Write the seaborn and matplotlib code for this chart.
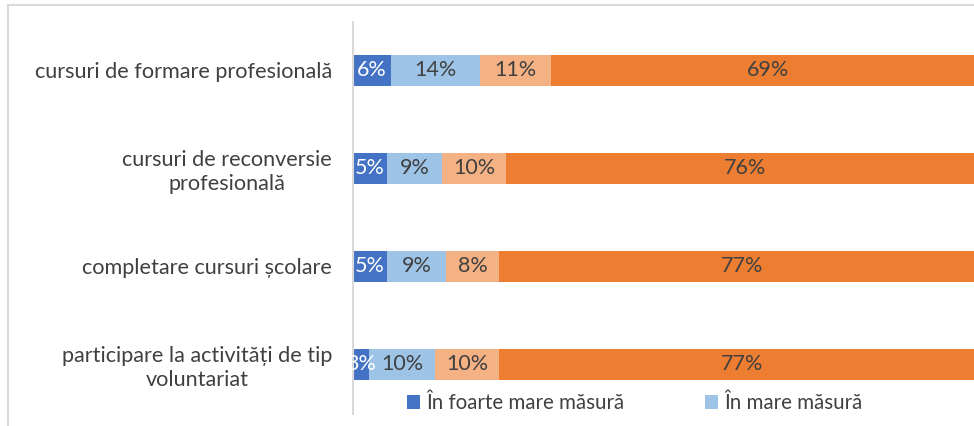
import matplotlib
matplotlib.use("Agg")
import matplotlib.pyplot as plt
from matplotlib.patches import Patch, Rectangle
import seaborn as sns
import numpy as np
import pandas as pd

categories = [
    "cursuri de formare profesională",
    "cursuri de reconversie\nprofesională",
    "completare cursuri școlare",
    "participare la activități de tip\nvoluntariat",
]
series_names = ["În foarte mare măsură", "În mare măsură", "În mică măsură", "Deloc"]
# values (labels show rounded percentages)
s1 = [6.0, 5.4, 5.4, 2.6]
s2 = [14.1, 8.7, 9.3, 10.4]
s3 = [11.2, 10.1, 8.4, 10.1]
s4 = [68.7, 75.8, 76.9, 76.9]
colors = ["#4472C4", "#9DC3E6", "#F4B183", "#ED7D31"]
label_colors = ["white", "#404040", "#404040", "#404040"]

sns.set_theme(style="white")
plt.rcParams["font.family"] = ["Lato", "DejaVu Sans"]

W, H = 974, 426
fig = plt.figure(figsize=(W / 100, H / 100), dpi=100)
fig.patch.set_facecolor("white")

# outer chart border (cropped on right/bottom)
fig.patches.append(Rectangle((8 / W, -0.1), 1.2, 1 - 5 / H + 0.1, transform=fig.transFigure,
                             fill=False, edgecolor="#D9D9D9", linewidth=1.5))

ax = fig.add_axes([353 / W, 1 - 413.5 / H, 632 / W, 392 / H])

data = pd.DataFrame({"cat": categories, "s1": s1, "s2": s2, "s3": s3, "s4": s4})
series = [data["s1"], data["s2"], data["s3"], data["s4"]]
cum = np.cumsum(np.array(series, dtype=float), axis=0)

for i in range(3, -1, -1):
    sns.barplot(x=cum[i], y=data["cat"], orient="h", color=colors[i], saturation=1,
                width=0.32, ax=ax, linewidth=0)

for i in range(4):
    for j in range(len(categories)):
        left = cum[i][j] - series[i][j]
        ax.text(left + series[i][j] / 2, j, f"{series[i][j]:.0f}%", ha="center", va="center",
                fontsize=15.5, color=label_colors[i])

ax.set_xlim(0, 100)
ax.set_ylim(3.5, -0.5)
ax.set_xlabel("")
ax.set_ylabel("")
ax.set_xticks([])
for s in ["top", "right", "bottom"]:
    ax.spines[s].set_visible(False)
ax.spines["left"].set_color("#D9D9D9")
ax.spines["left"].set_linewidth(1.5)
ax.tick_params(axis="y", length=0, pad=15, labelsize=15.6, labelcolor="#404040")
for lab in ax.get_yticklabels():
    lab.set_multialignment("center")
    lab.set_linespacing(1.25)

# only the first two legend entries are visible in the (cropped) chart
handles = [Patch(facecolor=c, edgecolor="none") for c in colors[:2]]
fig.legend(handles, series_names[:2], loc="center left", bbox_to_anchor=(407 / W, 1 - 403 / H),
           ncol=2, frameon=False, fontsize=14.8, handlelength=0.65, handleheight=0.65,
           handletextpad=0.3, columnspacing=3.9, labelcolor="#404040", borderaxespad=0,
           borderpad=0)

fig.savefig("out.png", dpi=100, facecolor="white")
